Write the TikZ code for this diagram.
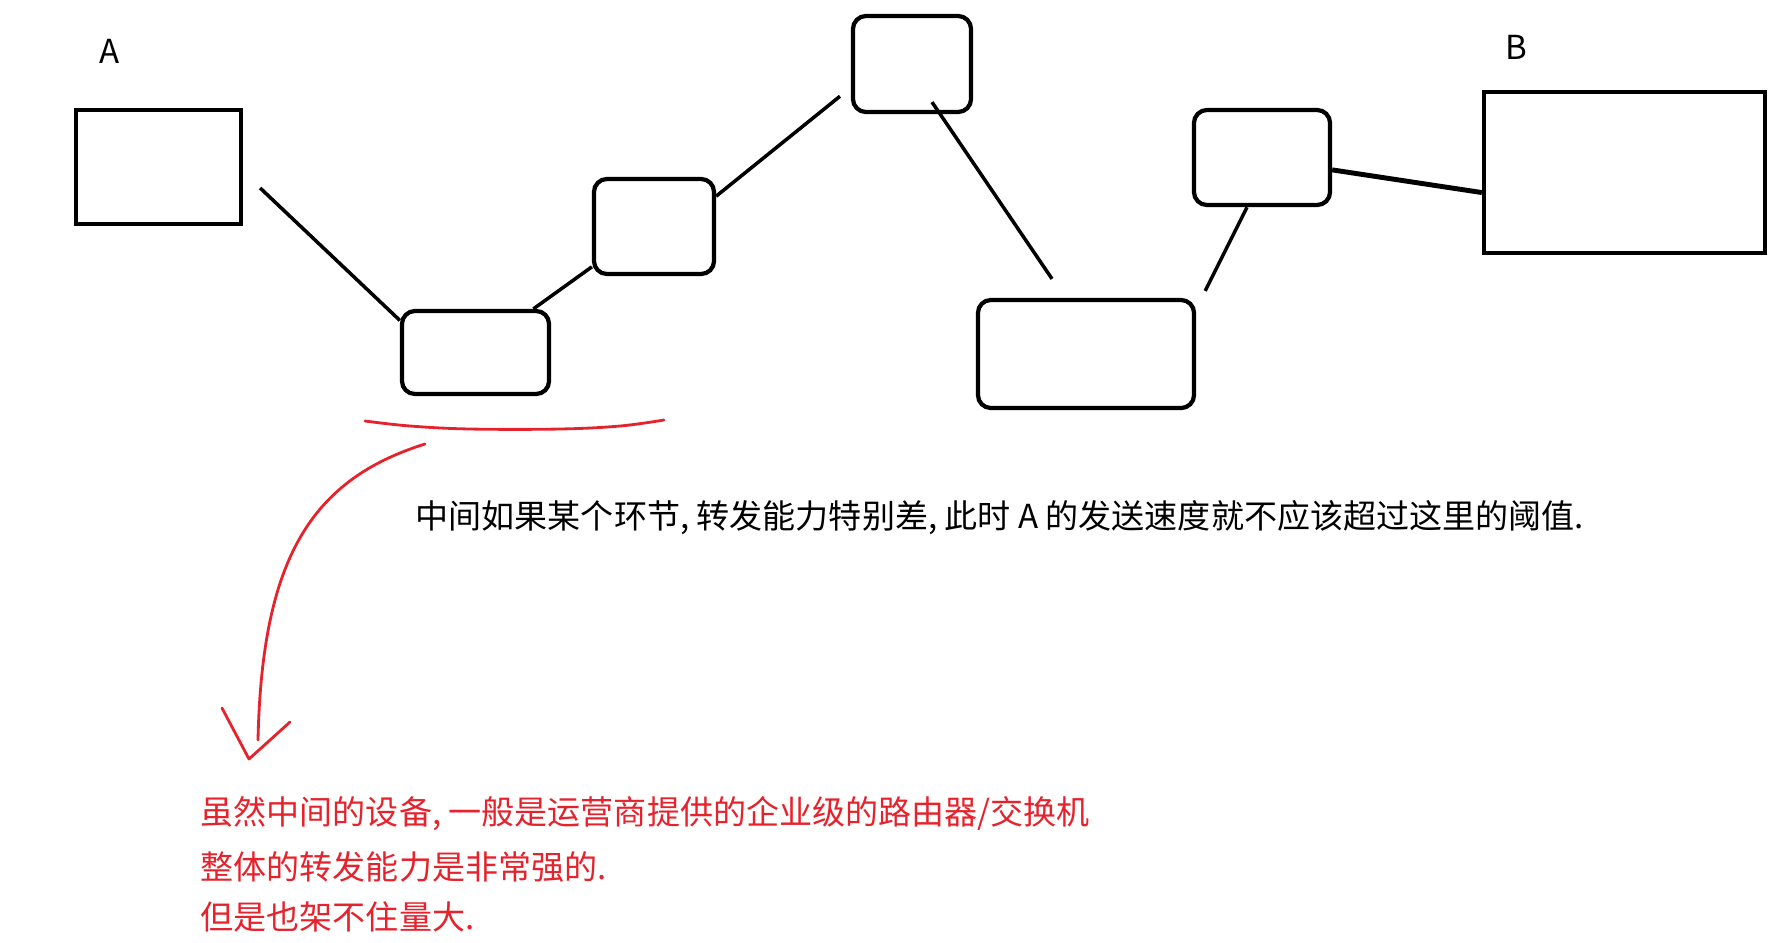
\documentclass[tikz,border=0pt]{standalone}
\usepackage{fontspec}
\setmainfont{Noto Sans CJK SC}
\usepackage{tikz}
\usetikzlibrary{calc,positioning}
\definecolor{penred}{RGB}{230,35,45}

\begin{document}
\begin{tikzpicture}[x=0.01cm, y=-0.01cm,
    host/.style={draw, line width=1.2pt},
    router/.style={draw, line width=1.2pt, rounded corners=0.13cm},
    link/.style={line width=1pt},
    pen/.style={draw=penred, line width=0.8pt, line cap=round, line join=round},
    txt/.style={inner sep=0pt, font=\fontsize{9.4pt}{11pt}\selectfont}]
  \useasboundingbox (0,0) rectangle (1777,942);

  % end hosts
  \node[host, minimum width=1.65cm, minimum height=1.14cm] (hostA) at (158.5,167) {};
  \node[host, minimum width=2.81cm, minimum height=1.61cm] (hostB) at (1624.5,172.5) {};
  \node[txt] (labA) at (110,51) {A};
  \node[txt] (labB) at (1516,47) {B};

  % routers on the way
  \node[router, minimum width=1.47cm, minimum height=0.83cm] (r1) at (475.5,352.5) {};
  \node[router, minimum width=1.20cm, minimum height=0.95cm] (r2) at (654,226.5) {};
  \node[router, minimum width=1.18cm, minimum height=0.96cm] (r3) at (912,64) {};
  \node[router, minimum width=2.16cm, minimum height=1.08cm] (r4) at (1086,354) {};
  \node[router, minimum width=1.36cm, minimum height=0.95cm] (r5) at (1262,157.5) {};

  \draw[link] ($(hostA.east)+(17,21)$) -- (r1.157);
  \draw[link] (r1.37) -- (r2.213);
  \draw[link, shorten >=0.14cm] (r2.26) -- (r3.201);
  \draw[link] ($(r3.south)+(20,-12)$) -- ($(r4.north)+(-34,-19)$);
  \draw[link] ($(r4.north east)+(9,-7)$) -- ($(r5.south)+(-15,0)$);
  \draw[line width=1.4pt] (r5.-10) -- (hostB.188);

  \node[txt, anchor=base west] (note) at (415,528)
    {中间如果某个环节, 转发能力特别差, 此时 A 的发送速度就不应该超过这里的阈值.};

  % red remarks
  \coordinate (ulL) at (365,421);
  \coordinate (ulR) at (664,420);
  \draw[pen] plot[smooth, tension=0.6] coordinates
    {(ulL) (410,426) (470,429) (560,429) (620,426) (ulR)};

  \coordinate (arrStart) at (425,444);
  \coordinate (arrEnd) at (258,740);
  \coordinate (tip) at (249,759);
  \draw[pen] (arrStart) .. controls (310,480) and (262,560) .. (arrEnd);
  \draw[pen] (222,708) -- (tip) -- (290,722);

  \node[txt, anchor=base west, text=penred] (rem1) at (200,824)
    {虽然中间的设备, 一般是运营商提供的企业级的路由器/交换机};
  \node[txt, anchor=base west, text=penred] (rem2) at (200,879)
    {整体的转发能力是非常强的.};
  \node[txt, anchor=base west, text=penred] (rem3) at (200,929)
    {但是也架不住量大.};
\end{tikzpicture}
\end{document}
